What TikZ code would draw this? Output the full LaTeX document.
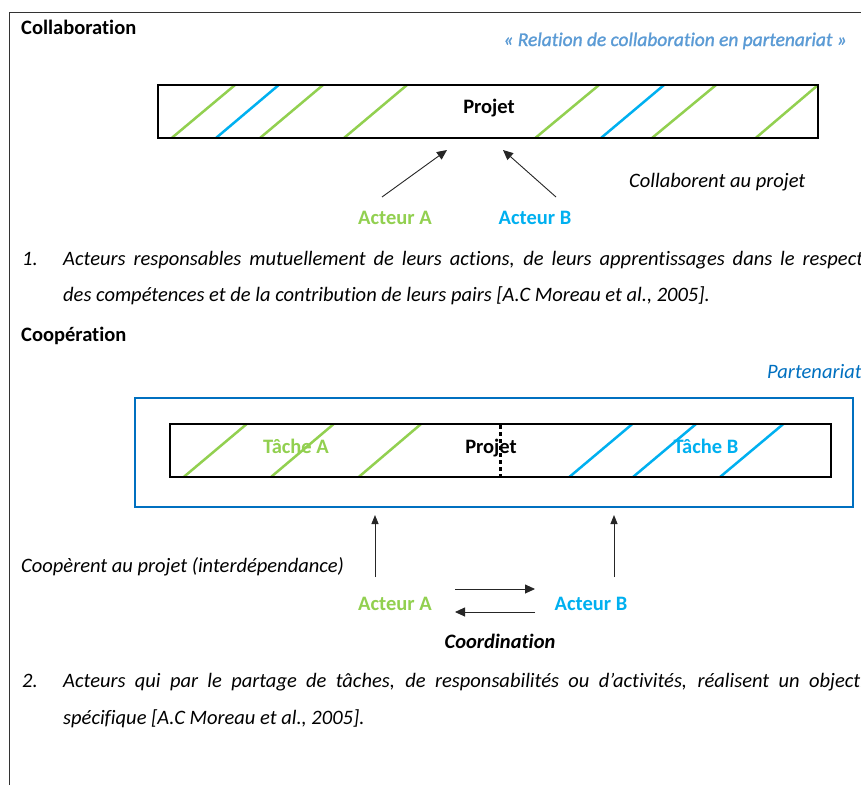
\documentclass[tikz,border=0pt]{standalone}
\usepackage{fontspec}
\setmainfont{Carlito}[Ligatures={NoCommon}]
\usetikzlibrary{arrows.meta}
\definecolor{grn}{HTML}{92D050}
\definecolor{cyb}{HTML}{00B0F0}
\definecolor{lblue}{HTML}{5B9BD5}
\definecolor{dblue}{HTML}{0070C0}
\definecolor{arr}{HTML}{262626}
\newcommand{\myfs}{\fontsize{20.5}{24}\selectfont}
\begin{document}
\begin{tikzpicture}[x=1pt,y=-1pt,
  txt/.style={inner sep=0pt, font=\myfs},
  btxt/.style={txt, font=\myfs\bfseries},
  itxt/.style={txt, font=\myfs\itshape},
  hg/.style={grn, line width=2.5pt},
  hb/.style={cyb, line width=2.5pt},
  boxline/.style={black, line width=1.8pt},
  arrline/.style={arr, line width=0.9pt, -{Triangle[length=10pt,width=9pt]}},
  uparr/.style={arr, line width=0.9pt, -{Triangle[length=9pt,width=7pt]}}]
\useasboundingbox (0,0) rectangle (861,785);
\fill[white] (0,0) rectangle (861,785);
% page frame
\draw[black!80, line width=1pt] (9,785) -- (9,12.5) -- (861,12.5);

% ---------------- Collaboration ----------------
\node[btxt, anchor=base west] (t1) at (21,34) {Collaboration};
\node[txt, anchor=base east, text=lblue, font=\fontsize{19.4}{23}\selectfont\itshape] (rel) at (847,46) {\addfontfeature{FakeBold=1.3}« Relation de collaboration en partenariat »};

\foreach \a/\b in {171.7/235, 260/323, 344/407, 535.3/599, 652/716, 755.7/818}
  \draw[hg] (\a,138) -- (\b,85);
\foreach \a/\b in {216/278.7, 601/664}
  \draw[hb] (\a,138) -- (\b,85);
\draw[boxline] (158,85) rectangle (818,138);
\node[btxt, anchor=base] (proj1) at (489,113) {Projet};

\node[itxt, anchor=base west] (collab) at (629,187) {Collaborent au projet};
\node[btxt, anchor=base, text=grn] (a1) at (395,224) {Acteur A};
\node[btxt, anchor=base, text=cyb] (b1) at (535,224) {Acteur B};
\coordinate (a1s) at (382,197);
\coordinate (a1e) at (447,150);
\coordinate (b1s) at (556,197);
\coordinate (b1e) at (503,150);
\draw[arrline] (a1s) -- (a1e);
\draw[arrline] (b1s) -- (b1e);

\node[itxt, anchor=base west] (n1) at (22,265) {1.};
\node[itxt, anchor=base west] (p1a) at (63,265) {\hbox to 800pt{Acteurs responsables mutuellement de leurs actions, de leurs apprentissages dans le respect}};
\node[itxt, anchor=base west] (p1b) at (63,301) {des compétences et de la contribution de leurs pairs [A.C Moreau et al., 2005].};

% ---------------- Cooperation ----------------
\node[btxt, anchor=base west] (t2) at (21,341) {Coopération};
\node[itxt, anchor=base west, text=dblue] (part) at (767,378) {Partenariat};
\draw[dblue, line width=2pt] (135,398) rectangle (853,507);

\foreach \a/\b in {183.7/246.7, 271/333.7, 358.7/421}
  \draw[hg] (\a,477) -- (\b,424);
\foreach \a/\b in {569.3/632.3, 633/696, 720/783.3}
  \draw[hb] (\a,477) -- (\b,424);
\draw[boxline] (170,424) rectangle (831,477);
\node[btxt, anchor=base, text=grn] (ta) at (296,453) {Tâche A};
\node[btxt, anchor=base] (proj2) at (491,453) {Projet};
\node[btxt, anchor=base, text=cyb] (tb) at (706,453) {Tâche B};
\coordinate (dt) at (500.5,425);
\coordinate (db) at (500.5,477);
\draw[black, line width=3pt, dash pattern=on 3.5pt off 3.5pt] (dt) -- (db);

\coordinate (ua1) at (375,577);
\coordinate (ua2) at (375,515);
\coordinate (ub1) at (614,577);
\coordinate (ub2) at (614,515);
\draw[uparr] (ua1) -- (ua2);
\draw[uparr] (ub1) -- (ub2);
\node[itxt, anchor=base west] (coop) at (21,572) {Coopèrent au projet (interdépendance)};

\node[btxt, anchor=base, text=grn] (a2) at (395,610) {Acteur A};
\node[btxt, anchor=base, text=cyb] (b2) at (591,610) {Acteur B};
\coordinate (r1) at (455,589);
\coordinate (r2) at (535,589);
\coordinate (l1) at (535,612);
\coordinate (l2) at (455,612);
\draw[arrline] (r1) -- (r2);
\draw[arrline] (l1) -- (l2);
\node[txt, anchor=base, font=\myfs\bfseries\itshape] (coord) at (500,648) {Coordination};

\node[itxt, anchor=base west] (n2) at (22,687) {2.};
\node[itxt, anchor=base west] (p2a) at (63,687) {\hbox to 808pt{Acteurs qui par le partage de tâches, de responsabilités ou d’activités, réalisent un objectif}};
\node[itxt, anchor=base west] (p2b) at (63,724) {spécifique [A.C Moreau et al., 2005].};
\end{tikzpicture}
\end{document}
